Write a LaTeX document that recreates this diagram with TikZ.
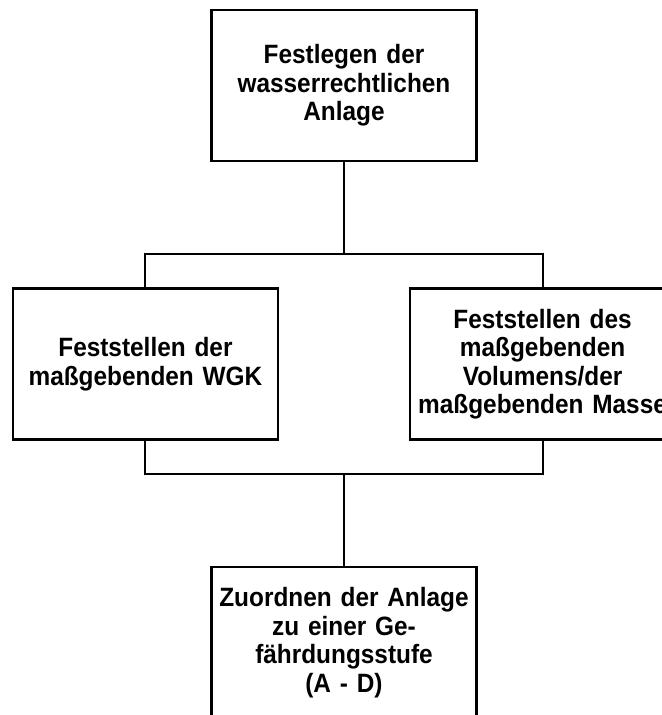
\documentclass[tikz,border=0pt]{standalone}
\usepackage{fontspec}
\newfontfamily\taskfont[FakeStretch=0.92]{Liberation Sans}
\usetikzlibrary{positioning}
\tikzset{
  task/.style={draw,line width=1.8pt,inner sep=0.1cm,text width=6.425cm,
    minimum height=3.775cm,align=center,
    font=\taskfont\bfseries\fontsize{18.85}{20.3}\selectfont},
  link/.style={line width=1.4pt}
}

\begin{document}
\begin{tikzpicture}[x=0.025cm,y=-0.025cm]
    % Fix the frame of the picture
    \clip (0,0) rectangle (662,715);

    % Define the boxes
    \node [task] (anlage) at (344,85.5) {Festlegen der\\wasserrechtlichen\\Anlage};
    \node [task,on grid,below left=6.9625cm and 4.9625cm of anlage] (wgk)
      {Feststellen der\\maßgebenden WGK};
    \node [task,on grid,below right=6.9625cm and 4.9625cm of anlage] (menge)
      {Feststellen des\\maßgebenden\\Volumens/der\\maßgebenden Masse};
    \node [task,on grid,below=13.925cm of anlage] (stufe)
      {Zuordnen der Anlage\\zu einer Ge-\\fährdungsstufe\\(A - D)};

    % Branch and join points
    \coordinate [below=2.3cm of anlage.south] (fork);
    \coordinate [above=2.3cm of stufe.north] (join);

    % Draw the connections
    \draw [link] (anlage.south) -- (fork);
    \draw [link] (wgk.north) |- (fork) -| (menge.north);
    \draw [link] (wgk.south) |- (join) -| (menge.south);
    \draw [link] (join) -- (stufe.north);
\end{tikzpicture}
\end{document}
